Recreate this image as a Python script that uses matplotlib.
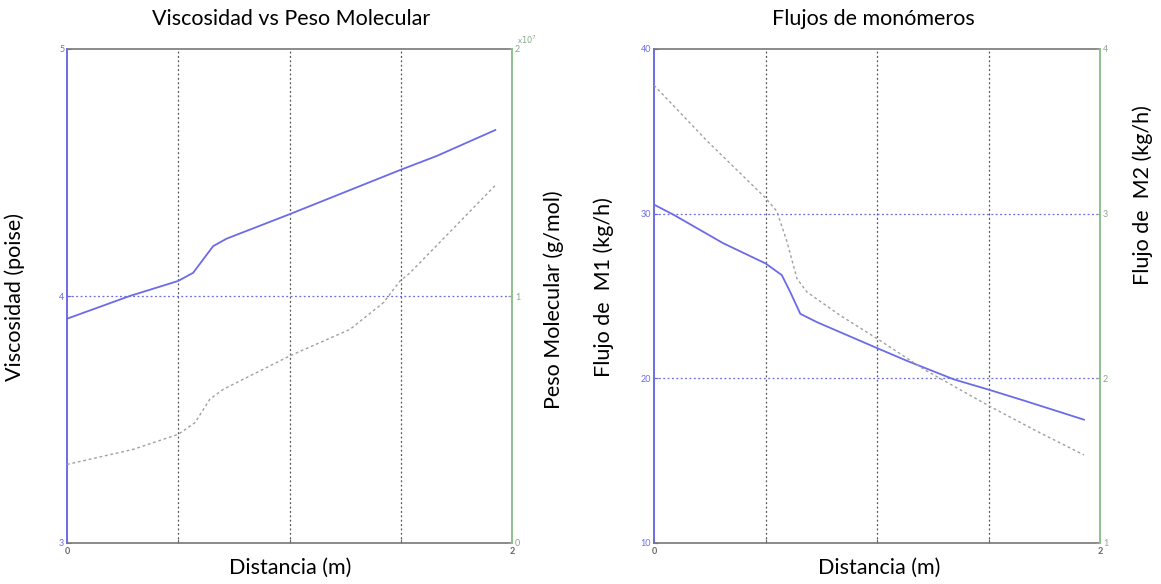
import matplotlib
matplotlib.use("Agg")
import matplotlib.pyplot as plt

plt.rcParams['font.family'] = ['Lato', 'DejaVu Sans']

# ---- Data: left panel (Viscosidad vs Peso Molecular) ----
visc_x = [0.0, 0.282, 0.5, 0.567, 0.612, 0.657, 0.717, 1.0, 1.497, 1.662, 1.925]
visc_y = [3.908, 4.0, 4.061, 4.094, 4.148, 4.202, 4.232, 4.331, 4.510, 4.567, 4.672]

pm_x = [0.0, 0.297, 0.5, 0.575, 0.642, 0.702, 1.0, 1.272, 1.422, 1.497, 1.542, 1.925]
pm_y = [0.318, 0.379, 0.440, 0.487, 0.582, 0.622, 0.757, 0.865, 0.973, 1.061, 1.094, 1.448]

# ---- Data: right panel (Flujos de monómeros) ----
m1_x = [0.0, 0.087, 0.311, 0.5, 0.573, 0.611, 0.656, 0.731, 1.003, 1.135, 1.344, 1.504, 1.659, 1.928]
m1_y = [30.55, 29.94, 28.2, 26.98, 26.27, 25.24, 23.92, 23.41, 21.82, 21.06, 19.94, 19.30, 18.65, 17.49]

m2_x = [0.0, 0.237, 0.5, 0.551, 0.596, 0.641, 0.686, 0.835, 1.003, 1.21, 1.504, 1.734, 1.928]
m2_y = [3.780, 3.443, 3.096, 3.014, 2.831, 2.606, 2.524, 2.382, 2.239, 2.055, 1.831, 1.667, 1.535]

x_ticks = [0, 0.5, 1, 1.5, 2]
x_ticklabels = ['0', '', '', '', '2']

left_ticks_a = [3, 4, 5]
right_ticks_a = [0, 1, 2]
left_ticks_b = [10, 20, 30, 40]
right_ticks_b = [1, 2, 3, 4]

W, H = 1161, 584
fig = plt.figure(figsize=(W / 100, H / 100), dpi=100)

BLUE = '#6b6bea'
GRAY_LINE = '#a0a0a0'
GRID_DARK = '#555555'
GREEN = '#8fbf8f'
SPINE = '#777777'
FS = 15.5


def make_panel(left_px, right_px, lticks, rticks, lylim, rylim, xs1, ys1, xs2, ys2):
    ax = fig.add_axes([left_px / W, (H - 543) / H, (right_px - left_px) / W, 494 / H])
    ax.plot(xs1, ys1, color=BLUE, lw=1.3, zorder=3)
    ax.set_xlim(0, 2)
    ax.set_ylim(*lylim)
    ax.set_xticks(x_ticks)
    ax.set_xticklabels(x_ticklabels)
    ax.set_yticks(lticks)
    ax.set_yticklabels([str(t) for t in lticks])
    ax.tick_params(axis='y', colors=BLUE, labelsize=6.5, length=3, direction='in', pad=2)
    ax.tick_params(axis='x', colors='#666666', labelsize=6.5, length=3, direction='in', pad=3)
    for t in ax.get_xticklabels():
        t.set_fontweight('bold')
    for gx in x_ticks[1:-1]:
        ax.axvline(gx, color=GRID_DARK, lw=0.9, ls=(0, (1.5, 2.0)), zorder=1)
    for gy in lticks[1:-1]:
        ax.axhline(gy, color=BLUE, lw=0.9, ls=(0, (1.5, 2.0)), zorder=1)
    ax.spines['left'].set_color(BLUE)
    ax.spines['left'].set_linewidth(1.4)
    ax.spines['top'].set_color(SPINE)
    ax.spines['bottom'].set_color(SPINE)
    ax.spines['top'].set_linewidth(1.2)
    ax.spines['bottom'].set_linewidth(1.2)
    ax.spines['right'].set_visible(False)

    ax2 = ax.twinx()
    ax2.plot(xs2, ys2, color=GRAY_LINE, lw=1.0, ls=(0, (2.0, 2.0)), zorder=2)
    ax2.set_ylim(*rylim)
    ax2.set_yticks(rticks)
    ax2.set_yticklabels([str(t) for t in rticks])
    ax2.tick_params(axis='y', colors='#8aa88a', labelsize=6.5, length=3, direction='in', pad=2)
    ax2.spines['right'].set_color(GREEN)
    ax2.spines['right'].set_linewidth(1.4)
    for s in ['left', 'top', 'bottom']:
        ax2.spines[s].set_visible(False)
    return ax, ax2


axL, axL2 = make_panel(67, 512, left_ticks_a, right_ticks_a, (3, 5), (0, 2),
                       visc_x, visc_y, pm_x, pm_y)
axR, axR2 = make_panel(654, 1100, left_ticks_b, right_ticks_b, (10, 40), (1, 4),
                       m1_x, m1_y, m2_x, m2_y)

# exponent marker on left panel right axis
fig.text(517 / W, 1 - 40 / H, r'x$10^7$', fontsize=6, color='#8aa88a', ha='left', va='center')

# titles
fig.text(291 / W, 1 - 19 / H, 'Viscosidad vs Peso Molecular', fontsize=FS, ha='center', va='center')
fig.text(873 / W, 1 - 19 / H, 'Flujos de monómeros', fontsize=FS, ha='center', va='center')

# x labels
fig.text(290 / W, 1 - 568 / H, 'Distancia (m)', fontsize=FS, ha='center', va='center')
fig.text(879 / W, 1 - 568 / H, 'Distancia (m)', fontsize=FS, ha='center', va='center')

# y labels
fig.text(15 / W, 1 - 297 / H, 'Viscosidad (poise)', fontsize=FS, rotation=90, ha='center', va='center')
fig.text(554 / W, 1 - 300 / H, 'Peso Molecular (g/mol)', fontsize=FS, rotation=90, ha='center', va='center')
fig.text(604 / W, 1 - 287 / H, 'Flujo de  M1 (kg/h)', fontsize=FS, rotation=90, ha='center', va='center')
fig.text(1143 / W, 1 - 195 / H, 'Flujo de  M2 (kg/h)', fontsize=FS, rotation=90, ha='center', va='center')

fig.savefig('out.png', dpi=100, facecolor='white')
